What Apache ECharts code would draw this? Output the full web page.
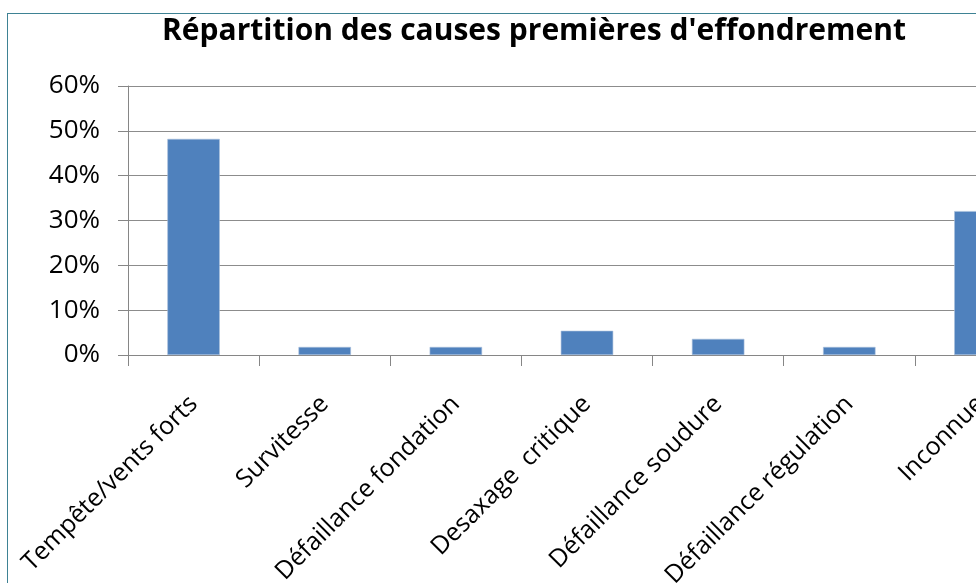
<!DOCTYPE html>
<html>
<head>
<meta charset="utf-8">
<script src="https://cdn.jsdelivr.net/npm/echarts@6/dist/echarts.min.js"></script>
<style>
  html, body { margin: 0; padding: 0; width: 976px; height: 583px; overflow: hidden; background: #fff; }
  #frame { position: absolute; left: 7px; top: 13px; border-left: 1px solid #3e8294; border-top: 1px solid #3e8294; }
  #chart { width: 1052px; height: 620px; }
</style>
</head>
<body>
<div id="frame"><div id="chart"></div></div>
<script>
// Causes of collapse and the share of cases for each
const categories = [
  'Tempête/vents forts',
  'Survitesse',
  'Défaillance fondation',
  'Desaxage  critique',
  'Défaillance soudure',
  'Défaillance régulation',
  'Inconnue'
];
const shares = [0.482, 0.018, 0.018, 0.054, 0.036, 0.018, 0.321];
const yTicks = [0, 0.1, 0.2, 0.3, 0.4, 0.5, 0.6];

const FONT = '"Open Sans", Lato, sans-serif';
const chart = echarts.init(document.getElementById('chart'), null, { renderer: 'canvas' });

chart.setOption({
  animation: false,
  backgroundColor: '#ffffff',
  title: {
    text: 'Répartition des causes premières d\'effondrement',
    left: 'center',
    top: -3,
    textStyle: { fontFamily: FONT, fontSize: 30, fontWeight: 'bold', color: '#000' }
  },
  grid: { left: 120, top: 72, width: 918, height: 269, containLabel: false },
  xAxis: {
    type: 'category',
    data: categories,
    boundaryGap: true,
    axisLine: { lineStyle: { color: '#868686', width: 1 } },
    axisTick: { show: true, length: 11, lineStyle: { color: '#868686' } },
    axisLabel: {
      rotate: 45,
      margin: 45,
      interval: 0,
      fontFamily: FONT,
      fontSize: 25,
      color: '#000'
    }
  },
  yAxis: {
    type: 'value',
    min: yTicks[0],
    max: yTicks[yTicks.length - 1],
    interval: 0.1,
    axisLine: { show: true, lineStyle: { color: '#868686', width: 1 } },
    axisTick: { show: true, length: 10, lineStyle: { color: '#868686' } },
    splitLine: { show: true, lineStyle: { color: '#8c8c8c', width: 1 } },
    axisLabel: {
      margin: 28,
      fontFamily: FONT,
      fontSize: 26,
      color: '#000',
      formatter: v => Math.round(v * 100) + '%'
    }
  },
  series: [{
    type: 'bar',
    data: shares,
    barWidth: '40%',
    itemStyle: { color: '#4f81bd', borderColor: '#a9bfdc', borderWidth: 0.6 }
  }]
});
</script>
</body>
</html>
